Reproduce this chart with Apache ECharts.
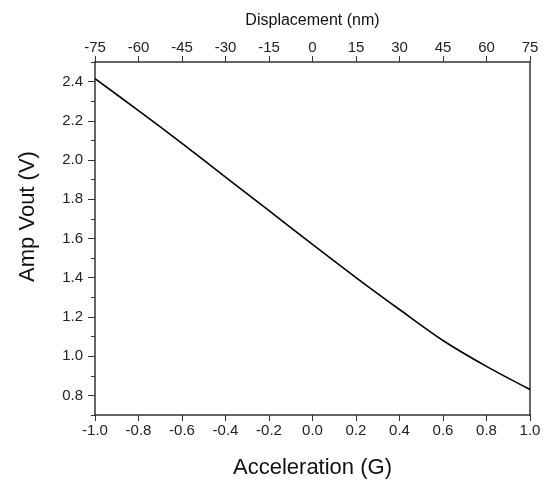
<!DOCTYPE html>
<html>
<head>
<meta charset="utf-8">
<script src="https://cdn.jsdelivr.net/npm/echarts@6/dist/echarts.min.js"></script>
<style>html,body{margin:0;padding:0;background:#fff}#c{width:547px;height:484px}</style>
</head>
<body>
<div id="c"></div>
<script>
var acceleration = [-1.0, -0.8, -0.6, -0.4, -0.2, 0.0, 0.2, 0.4, 0.6, 0.8, 1.0];
var ampVout = [2.415, 2.252, 2.085, 1.913, 1.742, 1.570, 1.401, 1.238, 1.080, 0.948, 0.830];
var yMajorTicks = [0.8, 1.0, 1.2, 1.4, 1.6, 1.8, 2.0, 2.2, 2.4];
var displacementRange = [-75, 75];

var font = 'Liberation Sans, Arial, sans-serif';
var axisColor = '#333';
var chart = echarts.init(document.getElementById('c'));
chart.setOption({
  animation: false,
  grid: {left: 95, right: 17, top: 62, bottom: 68},
  xAxis: [{
    type: 'value', position: 'bottom', min: -1, max: 1, interval: 0.2,
    name: 'Acceleration (G)', nameLocation: 'middle', nameGap: 42,
    nameTextStyle: {fontFamily: font, fontSize: 22, color: '#111'},
    axisLine: {show: true, onZero: false, lineStyle: {color: axisColor, width: 1.5}},
    axisTick: {show: true, length: 6, lineStyle: {color: axisColor}},
    axisLabel: {fontFamily: font, fontSize: 15, color: '#222', margin: 8,
      formatter: function (v) { return v.toFixed(1); }},
    splitLine: {show: false}
  }, {
    type: 'value', position: 'top', min: displacementRange[0], max: displacementRange[1], interval: 15,
    name: 'Displacement (nm)', nameLocation: 'middle', nameGap: 33,
    nameTextStyle: {fontFamily: font, fontSize: 16, color: '#111'},
    axisLine: {show: true, onZero: false, lineStyle: {color: axisColor, width: 1.5}},
    axisTick: {show: true, length: 6, lineStyle: {color: axisColor}},
    axisLabel: {fontFamily: font, fontSize: 15, color: '#222', margin: 7},
    splitLine: {show: false}
  }],
  yAxis: [{
    type: 'value', position: 'left', min: 0.7, max: 2.5, interval: 0.1,
    name: 'Amp Vout (V)', nameLocation: 'middle', nameGap: 56,
    nameTextStyle: {fontFamily: font, fontSize: 22, color: '#111', padding: [0, 0, 0, 44]},
    axisLine: {show: true, onZero: false, lineStyle: {color: axisColor, width: 1.5}},
    axisTick: {show: true, length: 4, lineStyle: {color: axisColor}},
    axisLabel: {fontFamily: font, fontSize: 15, color: '#222', margin: 12,
      customValues: yMajorTicks,
      formatter: function (v) { return v.toFixed(1); }},
    splitLine: {show: false}
  }, {
    type: 'value', position: 'left', min: 0.7, max: 2.5, interval: 0.1,
    axisLine: {show: false, onZero: false},
    axisTick: {show: true, length: 7, customValues: yMajorTicks, lineStyle: {color: axisColor}},
    axisLabel: {show: false},
    splitLine: {show: false}
  }, {
    type: 'value', position: 'right', min: 0.7, max: 2.5,
    axisLine: {show: true, onZero: false, lineStyle: {color: axisColor, width: 1.5}},
    axisTick: {show: false}, axisLabel: {show: false}, splitLine: {show: false}
  }],
  series: [{
    type: 'line', xAxisIndex: 0, yAxisIndex: 0,
    data: acceleration.map(function (a, i) { return [a, ampVout[i]]; }),
    smooth: 0.3, showSymbol: false,
    lineStyle: {color: '#000', width: 1.6}
  }]
});
</script>
</body>
</html>
